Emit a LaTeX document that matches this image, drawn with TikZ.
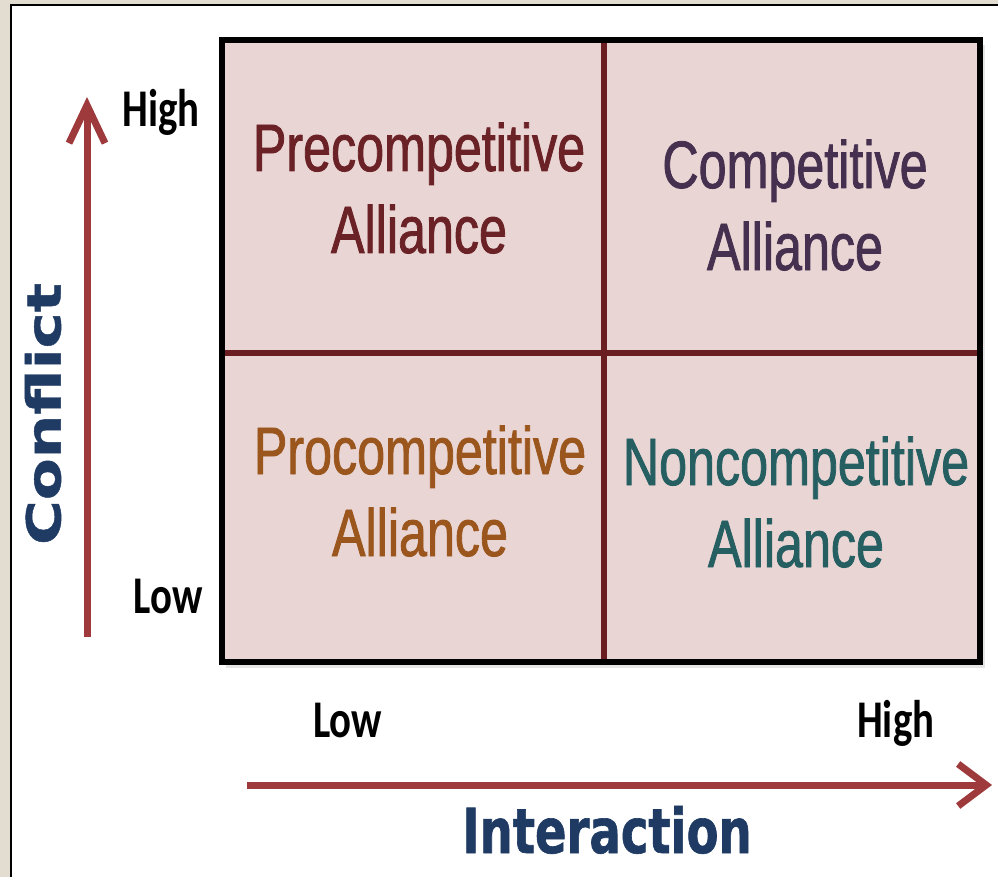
\documentclass[tikz,border=0pt]{standalone}
\usepackage{fontspec}
\usetikzlibrary{arrows.meta}
\newfontfamily\quadfont[FakeStretch=0.75,FakeBold=1.2]{Liberation Sans}
\newfontfamily\lblfont[FakeStretch=0.77]{Carlito}
\newfontfamily\axisfont[FakeStretch=0.75,FakeBold=1]{DejaVu Sans}
\newfontfamily\axisvfont[FakeStretch=1.3,FakeBold=1]{DejaVu Sans}
\definecolor{bgbeige}{HTML}{E3DCD0}
\definecolor{cellfill}{HTML}{E9D5D4}
\definecolor{divred}{HTML}{6A1E22}
\definecolor{arrowred}{HTML}{9E3A3C}
\definecolor{navy}{HTML}{1F3B64}
\definecolor{preC}{HTML}{6B2227}
\definecolor{compC}{HTML}{45304F}
\definecolor{proC}{HTML}{9A561C}
\definecolor{nonC}{HTML}{265F62}
\tikzset{
  quad/.style={anchor=base, align=center, inner sep=0pt,
    font=\quadfont\fontsize{67}{82}\selectfont},
  lbl/.style={inner sep=0pt, font=\lblfont\bfseries\fontsize{53}{60}\selectfont},
  axisarrow/.style={draw=arrowred, line width=7pt},
}
\begin{document}
\begin{tikzpicture}[x=1pt,y=-1pt]
\useasboundingbox (0,0) rectangle (998,877);
\fill[bgbeige] (0,0) rectangle (998,877);
\fill[white] (11,5) rectangle (998,877);
\draw[black,line width=2.5pt] (11,877) -- (11,5) -- (998,5);
% shadow
\fill[black!10] (226,45) rectangle (985,668);
\fill[cellfill] (222,40) rectangle (980,662);
\draw[divred,line width=6pt] (604,40) -- (604,662);
\draw[divred,line width=6pt] (222,353) -- (980,353);
\draw[black,line width=6pt] (222,40) rectangle (980,662);
% quadrant labels (base = last line baseline)
\node[quad,text=preC] (pre) at (419,253) {Precompetitive\\Alliance};
\node[quad,text=compC] (comp) at (795,270) {Competitive\\Alliance};
\node[quad,text=proC] (pro) at (420,556) {Procompetitive\\Alliance};
\node[quad,text=nonC] (non) at (796,567) {Noncompetitive\\Alliance};
% axis end labels
\node[lbl,anchor=base east] (yhigh) at (200,127) {High};
\node[lbl,anchor=base east] (ylow) at (203,613) {Low};
\node[lbl,anchor=base west] (xlow) at (313,737) {Low};
\node[lbl,anchor=base west] (xhigh) at (857,737) {High};
% axis titles
\node[inner sep=0pt,rotate=90,text=navy,font=\axisvfont\bfseries\fontsize{47}{50}\selectfont] (conflict) at (43,414) {Conflict};
\node[inner sep=0pt,anchor=base,text=navy,font=\axisfont\bfseries\fontsize{62}{66}\selectfont] (interaction) at (607,853) {Interaction};
% arrows
\coordinate (cb) at (87,637);
\coordinate (ct) at (87,97);
\coordinate (ib) at (247,785);
\coordinate (it) at (992,785);
\draw[axisarrow,-{Straight Barb[length=38pt,width=36pt]}] (cb) -- (ct);
\draw[axisarrow,-{Straight Barb[length=28pt,width=42pt]}] (ib) -- (it);
\end{tikzpicture}
\end{document}
